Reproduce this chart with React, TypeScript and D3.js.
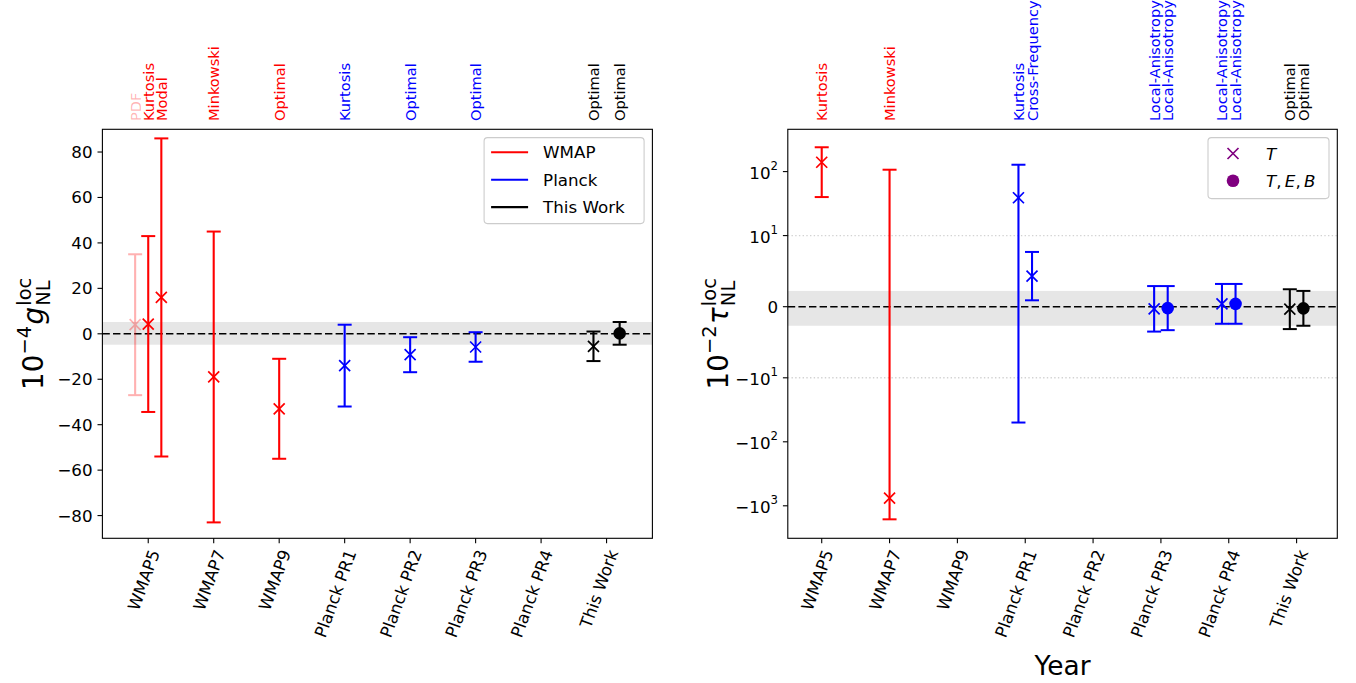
import React, { useEffect, useRef } from "react";
import * as d3 from "d3";

// ---------------- data ----------------
const categories = ["WMAP5", "WMAP7", "WMAP9", "Planck PR1", "Planck PR2", "Planck PR3", "Planck PR4", "This Work"];
const surveyNames = ["WMAP", "Planck", "This Work"];
const surveyColors = ["#ff0000", "#0000ff", "#000000"];

// g_NL^loc in units of 10^4
const gnlCategory = [0, 0, 0, 1, 2, 3, 4, 5, 7, 7];
const gnlOffset = [-0.2, 0, 0.2, 0, 0, 0, 0, 0, -0.2, 0.2];
const gnlValue = [4, 4.3, 16, -19, -33, -14, -9.2, -5.8, -5.5, 0.2];
const gnlError = [31, 38.7, 70, 64, 22, 18, 7.7, 6.5, 6.5, 5.0];
const gnlSurvey = [0, 0, 0, 0, 0, 1, 1, 1, 2, 2];
const gnlMarker = ["x", "x", "x", "x", "x", "x", "x", "x", "x", "o"];
const gnlFaded = [true, false, false, false, false, false, false, false, false, false];
const gnlMethod = ["PDF", "Kurtosis", "Modal", "Minkowski", "Optimal", "Kurtosis", "Optimal", "Optimal", "Optimal", "Optimal"];
const gnlTicks = [-80, -60, -40, -20, 0, 20, 40, 60, 80];
const gnlDomain = [-90, 90];

// tau_NL^loc in units of 10^2 (symlog axis)
const tauCategory = [0, 1, 3, 3, 5, 5, 6, 6, 7, 7];
const tauOffset = [0, 0, -0.1, 0.1, -0.1, 0.1, -0.1, 0.1, -0.1, 0.1];
const tauValue = [140, -760, 39, 4.3, -0.3, -0.2, 0.4, 0.4, -0.35, -0.23];
const tauError = [100, 867, 89, 3.4, 3.2, 3.1, 2.8, 2.8, 2.8, 2.45];
const tauSurvey = [0, 0, 1, 1, 1, 1, 1, 1, 2, 2];
const tauMarker = ["x", "x", "x", "x", "x", "o", "x", "o", "x", "o"];
const tauFaded = [false, false, false, false, false, false, false, false, false, false];
const tauMethod = ["Kurtosis", "Minkowski", "Kurtosis", "Cross-Frequency", "Local-Anisotropy", "Local-Anisotropy", "Local-Anisotropy", "Local-Anisotropy", "Optimal", "Optimal"];
const tauTicks = [-1000, -100, -10, 0, 10, 100];
const tauGrid = [-10, 10];
const tauDomain = [-3220, 458];
const tauLinThresh = 10;

const legendMarkers = ["x", "o"];
const legendMarkerLabels = [["T"], ["T", "E", "B"]];

// ---------------- layout ----------------
const W = 1356;
const H = 683;
const TOP = 129.3;
const BOTTOM = 538.3;
const FONT = "DejaVu Sans";
const TICK_F = 16.7;
const LABEL_F = 27.8;
const METHOD_F = 14.6;
const XROT = 70;

function symlogT(v: number) {
  const ls = 1 / (1 - 1 / 10);
  const a = Math.abs(v);
  if (a <= tauLinThresh) return (v / tauLinThresh) * ls;
  return Math.sign(v) * (ls + Math.log10(a / tauLinThresh));
}

function drawMarker(g: any, type: string, px: number, py: number, color: string) {
  if (type === "x") {
    const s = 5.5;
    g.append("path")
      .attr("d", `M${px - s},${py - s}L${px + s},${py + s}M${px - s},${py + s}L${px + s},${py - s}`)
      .attr("stroke", color)
      .attr("stroke-width", 1.7)
      .attr("fill", "none");
  } else {
    g.append("circle").attr("cx", px).attr("cy", py).attr("r", 6.3).attr("fill", color);
  }
}

function mathLabel(root: any, baseX: number, cy: number, base: string, exp: string, sym: string, sup: string, sub: string) {
  const F = LABEL_F;
  const g = root.append("g").attr("transform", `translate(${baseX},${cy}) rotate(-90)`);
  const inner = g.append("g");
  let u = 0;
  const t1 = inner.append("text").attr("x", u).attr("y", 0).attr("font-size", F).text(base);
  u += (t1.node() as SVGTextElement).getComputedTextLength();
  const t2 = inner.append("text").attr("x", u).attr("y", -0.42 * F).attr("font-size", 0.7 * F).text(exp);
  u += (t2.node() as SVGTextElement).getComputedTextLength() + 0.05 * F;
  const t3 = inner.append("text").attr("x", u).attr("y", 0).attr("font-size", F).attr("font-style", "italic").text(sym);
  u += (t3.node() as SVGTextElement).getComputedTextLength() + 0.04 * F;
  const t4 = inner.append("text").attr("x", u).attr("y", -0.45 * F).attr("font-size", 0.7 * F).text(sup);
  const t5 = inner.append("text").attr("x", u).attr("y", 0.26 * F).attr("font-size", 0.7 * F).text(sub);
  const w = Math.max((t4.node() as SVGTextElement).getComputedTextLength(), (t5.node() as SVGTextElement).getComputedTextLength());
  const total = u + w;
  inner.attr("transform", `translate(${-total / 2},0)`);
}

function drawPanel(root: any, cfg: any) {
  const { x0, x1, xdom, y, cat, off, val, err, survey, marker, faded, method, ticks, tickLabel, grid, band } = cfg;
  const x = d3.scaleLinear().domain(xdom).range([x0, x1]);
  const g = root.append("g");

  // shaded band
  g.append("rect")
    .attr("x", x0)
    .attr("width", x1 - x0)
    .attr("y", y(band[1]))
    .attr("height", y(band[0]) - y(band[1]))
    .attr("fill", "#e6e6e6");

  // dotted grid lines
  grid.forEach((v: number) => {
    g.append("line")
      .attr("x1", x0)
      .attr("x2", x1)
      .attr("y1", y(v))
      .attr("y2", y(v))
      .attr("stroke", "#d3d3d3")
      .attr("stroke-width", 1.4)
      .attr("stroke-dasharray", "1.4,2.3");
  });

  // zero line
  g.append("line")
    .attr("x1", x0)
    .attr("x2", x1)
    .attr("y1", y(0))
    .attr("y2", y(0))
    .attr("stroke", "#000")
    .attr("stroke-width", 1.5)
    .attr("stroke-dasharray", "7.4,3.2");

  // error bars
  val.forEach((v: number, i: number) => {
    const px = x(cat[i] + off[i]);
    const color = surveyColors[survey[i]];
    const eg = g.append("g").attr("opacity", faded[i] ? 0.3 : 1);
    const yt = y(v + err[i]);
    const yb = y(v - err[i]);
    eg.append("line").attr("x1", px).attr("x2", px).attr("y1", yt).attr("y2", yb).attr("stroke", color).attr("stroke-width", 2.1);
    [yt, yb].forEach((yy) => {
      eg.append("line").attr("x1", px - 7).attr("x2", px + 7).attr("y1", yy).attr("y2", yy).attr("stroke", color).attr("stroke-width", 2);
    });
    drawMarker(eg, marker[i], px, y(v), color);

    // method label above the axes
    g.append("text")
      .attr("transform", `translate(${px},121) rotate(-90)`)
      .attr("text-anchor", "start")
      .attr("dominant-baseline", "central")
      .attr("font-size", METHOD_F)
      .attr("fill", color)
      .attr("fill-opacity", faded[i] ? 0.3 : 1)
      .text(method[i]);
  });

  // spines
  g.append("rect")
    .attr("x", x0)
    .attr("y", TOP)
    .attr("width", x1 - x0)
    .attr("height", BOTTOM - TOP)
    .attr("fill", "none")
    .attr("stroke", "#000")
    .attr("stroke-width", 1.1);

  // x ticks (rotated labels anchored at their top-right corner)
  categories.forEach((c, i) => {
    const px = x(i);
    g.append("line").attr("x1", px).attr("x2", px).attr("y1", BOTTOM).attr("y2", BOTTOM + 4.9).attr("stroke", "#000").attr("stroke-width", 1.1);
    g.append("text")
      .attr("transform", `translate(${px},${BOTTOM + 9.8}) rotate(${-XROT})`)
      .attr("x", 0)
      .attr("y", 0.76 * TICK_F)
      .attr("text-anchor", "end")
      .attr("font-size", TICK_F)
      .text(c);
  });

  // y ticks
  ticks.forEach((t: number) => {
    const py = y(t);
    g.append("line").attr("x1", x0 - 4.9).attr("x2", x0).attr("y1", py).attr("y2", py).attr("stroke", "#000").attr("stroke-width", 1.1);
    const tx = g.append("text")
      .attr("x", x0 - 9.8)
      .attr("y", py)
      .attr("text-anchor", "end")
      .attr("dominant-baseline", "central")
      .attr("font-size", TICK_F);
    tickLabel(tx, t);
  });
}

function draw(svg: any) {
  svg.append("rect").attr("width", W).attr("height", H).attr("fill", "#fff");
  const root = svg.append("g").attr("font-family", FONT).attr("fill", "#000");

  const LX0 = 102.4, LX1 = 652.4, RX0 = 787.8, RX1 = 1337.3;

  // ---- left panel: g_NL ----
  const yL = d3.scaleLinear().domain(gnlDomain).range([BOTTOM, TOP]);
  const gnlThis = gnlValue.length - 1;
  drawPanel(root, {
    x0: LX0,
    x1: LX1,
    xdom: [-0.7, 7.7],
    y: yL,
    cat: gnlCategory,
    off: gnlOffset,
    val: gnlValue,
    err: gnlError,
    survey: gnlSurvey,
    marker: gnlMarker,
    faded: gnlFaded,
    method: gnlMethod,
    ticks: gnlTicks,
    tickLabel: (t: any, v: number) => t.text(v < 0 ? "\u2212" + Math.abs(v) : String(v)),
    grid: [],
    band: [gnlValue[gnlThis] - gnlError[gnlThis], gnlValue[gnlThis] + gnlError[gnlThis]],
  });

  // ---- right panel: tau_NL (symlog) ----
  const lin = d3.scaleLinear().domain([symlogT(tauDomain[0]), symlogT(tauDomain[1])]).range([BOTTOM, TOP]);
  const yR = (v: number) => lin(symlogT(v));
  const tauThis = tauValue.length - 1;
  drawPanel(root, {
    x0: RX0,
    x1: RX1,
    xdom: [-0.5, 7.6],
    y: yR,
    cat: tauCategory,
    off: tauOffset,
    val: tauValue,
    err: tauError,
    survey: tauSurvey,
    marker: tauMarker,
    faded: tauFaded,
    method: tauMethod,
    ticks: tauTicks,
    tickLabel: (t: any, v: number) => {
      if (v === 0) {
        t.text("0");
        return;
      }
      const e = Math.round(Math.log10(Math.abs(v)));
      t.attr("dy", 1.5);
      t.append("tspan").text((v < 0 ? "\u2212" : "") + "10");
      t.append("tspan").attr("font-size", TICK_F * 0.7).attr("dy", -0.42 * TICK_F).text(String(e));
    },
    grid: tauGrid,
    band: [tauValue[tauThis] - tauError[tauThis], tauValue[tauThis] + tauError[tauThis]],
  });

  // ---- axis labels ----
  mathLabel(root, 43, (TOP + BOTTOM) / 2, "10", "\u22124", "g", "loc", "NL");
  mathLabel(root, 728, (TOP + BOTTOM) / 2, "10", "\u22122", "\u03c4", "loc", "NL");
  root.append("text")
    .attr("x", (RX0 + RX1) / 2)
    .attr("y", 675)
    .attr("text-anchor", "middle")
    .attr("font-size", LABEL_F * 0.95)
    .text("Year");

  // ---- legend left ----
  const lg = root.append("g");
  const lgX = LX1 - 8.3 - 160;
  lg.append("rect")
    .attr("x", lgX)
    .attr("y", 137.6)
    .attr("width", 160)
    .attr("height", 86)
    .attr("rx", 3.5)
    .attr("fill", "#fff")
    .attr("fill-opacity", 0.8)
    .attr("stroke", "#cccccc")
    .attr("stroke-width", 1.1);
  surveyNames.forEach((s, i) => {
    const yy = 152.3 + i * 27.4;
    lg.append("line").attr("x1", lgX + 7).attr("x2", lgX + 44).attr("y1", yy).attr("y2", yy).attr("stroke", surveyColors[i]).attr("stroke-width", 2.1);
    lg.append("text").attr("x", lgX + 59).attr("y", yy).attr("dominant-baseline", "central").attr("font-size", TICK_F).text(s);
  });

  // ---- legend right ----
  const rg = root.append("g");
  const rgX = RX1 - 8.3 - 121;
  rg.append("rect")
    .attr("x", rgX)
    .attr("y", 137.6)
    .attr("width", 121)
    .attr("height", 61)
    .attr("rx", 3.5)
    .attr("fill", "#fff")
    .attr("fill-opacity", 0.8)
    .attr("stroke", "#cccccc")
    .attr("stroke-width", 1.1);
  legendMarkers.forEach((m, i) => {
    const yy = 153.5 + i * 27.2;
    drawMarker(rg, m, rgX + 25, yy, "#800080");
    const t = rg.append("text").attr("x", rgX + 58).attr("y", yy).attr("dominant-baseline", "central").attr("font-size", TICK_F);
    legendMarkerLabels[i].forEach((p, k) => {
      if (k > 0) t.append("tspan").text(",\u2009");
      t.append("tspan").attr("font-style", "italic").text(p);
    });
  });
}

export default function App() {
  const ref = useRef<SVGSVGElement>(null);
  useEffect(() => {
    const svg = d3.select(ref.current);
    svg.selectAll("*").remove();
    draw(svg);
  }, []);
  return (
    <svg
      ref={ref}
      width={W}
      height={H}
      style={{ position: "absolute", left: 0, top: 0, display: "block" }}
    />
  );
}
